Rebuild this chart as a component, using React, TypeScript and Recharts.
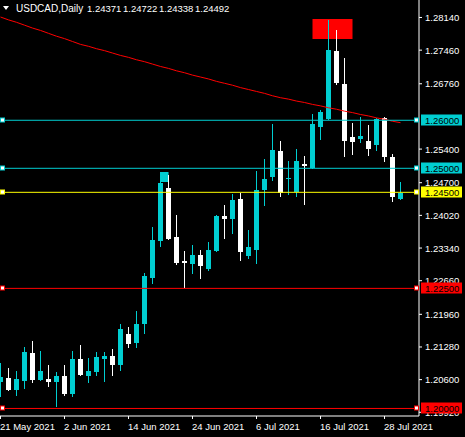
import {
  ComposedChart,
  Bar,
  Line,
  XAxis,
  YAxis,
  ReferenceLine,
  ReferenceArea,
} from 'recharts';

const CYAN = '#00ced1';
const FONT = '"Liberation Sans", Arial, sans-serif';

// trading days shown on the chart
const dates = [
  '21 May', '24 May', '25 May', '26 May', '27 May', '28 May', '31 May',
  '1 Jun', '2 Jun', '3 Jun', '4 Jun', '7 Jun', '8 Jun', '9 Jun', '10 Jun',
  '11 Jun', '14 Jun', '15 Jun', '16 Jun', '17 Jun', '18 Jun', '21 Jun',
  '22 Jun', '23 Jun', '24 Jun', '25 Jun', '28 Jun', '29 Jun', '30 Jun',
  '1 Jul', '2 Jul', '5 Jul', '6 Jul', '7 Jul', '8 Jul', '9 Jul', '12 Jul',
  '13 Jul', '14 Jul', '15 Jul', '16 Jul', '19 Jul', '20 Jul', '21 Jul',
  '22 Jul', '23 Jul', '26 Jul', '27 Jul', '28 Jul', '29 Jul', '30 Jul',
];

const opens = [
  1.20557, 1.20634, 1.20384, 1.20578, 1.21155, 1.20592, 1.20613, 1.20551,
  1.20676, 1.20301, 1.2103, 1.20676, 1.20759, 1.2103, 1.21092, 1.20905,
  1.2155, 1.21363, 1.21758, 1.22716, 1.23486, 1.2459, 1.2357, 1.2307,
  1.23008, 1.23195, 1.22903, 1.23278, 1.24007, 1.23945, 1.24361, 1.23174,
  1.23299, 1.24548, 1.24819, 1.2536, 1.24798, 1.24507, 1.2509, 1.25006,
  1.2586, 1.26026, 1.27442, 1.26755, 1.25652, 1.2561, 1.25568, 1.25485,
  1.26047, 1.25235, 1.24371,
];

const highs = [
  1.20953, 1.20842, 1.2078, 1.2128, 1.21404, 1.21196, 1.20905, 1.20759,
  1.20905, 1.21196, 1.21321, 1.2105, 1.21175, 1.21175, 1.21238, 1.21758,
  1.21696, 1.22029, 1.2282, 1.23778, 1.24923, 1.24861, 1.24028, 1.23278,
  1.23403, 1.23299, 1.23466, 1.24028, 1.24236, 1.24465, 1.24486, 1.23715,
  1.24944, 1.25194, 1.25922, 1.25568, 1.25152, 1.25402, 1.25256, 1.26131,
  1.26214, 1.28088, 1.27879, 1.27296, 1.25943, 1.26068, 1.25902, 1.26047,
  1.2606, 1.25298, 1.24722,
];

const lows = [
  1.20245, 1.20363, 1.20259, 1.20405, 1.20536, 1.2058, 1.20447, 1.2003,
  1.20259, 1.20238, 1.20676, 1.2053, 1.20676, 1.20551, 1.20676, 1.2078,
  1.21259, 1.21259, 1.2155, 1.22591, 1.23361, 1.23507, 1.22987, 1.22508,
  1.22799, 1.22695, 1.22862, 1.23257, 1.23528, 1.23632, 1.2307, 1.23112,
  1.23008, 1.24215, 1.24736, 1.24402, 1.24444, 1.24402, 1.24236, 1.2499,
  1.25589, 1.2601, 1.26734, 1.25235, 1.25277, 1.25527, 1.25256, 1.2536,
  1.25131, 1.24298, 1.24338,
];

const closes = [
  1.20655, 1.20384, 1.20613, 1.21175, 1.20592, 1.2078, 1.20551, 1.20676,
  1.20301, 1.2103, 1.20697, 1.2078, 1.21071, 1.21092, 1.20905, 1.21654,
  1.21342, 1.21758, 1.22758, 1.23507, 1.24694, 1.23528, 1.23028, 1.23028,
  1.23195, 1.22966, 1.23299, 1.24007, 1.23945, 1.2434, 1.23257, 1.23361,
  1.24548, 1.24777, 1.25381, 1.24486, 1.24798, 1.25152, 1.25048, 1.25922,
  1.26172, 1.27463, 1.26776, 1.25568, 1.25548, 1.25673, 1.25402, 1.26026,
  1.25235, 1.24402, 1.24492,
];

// red moving average
const maValues = [
  1.2815, 1.2809, 1.2804, 1.2798, 1.2792, 1.2787, 1.2781, 1.2775, 1.277,
  1.2764, 1.2758, 1.2754, 1.2749, 1.2745, 1.274, 1.2735, 1.2731, 1.2726,
  1.2722, 1.2717, 1.2712, 1.2708, 1.2703, 1.2699, 1.2694, 1.269, 1.2686,
  1.2681, 1.2677, 1.2673, 1.2668, 1.2664, 1.266, 1.2656, 1.2651, 1.2647,
  1.2644, 1.264, 1.2637, 1.2633, 1.263, 1.2626, 1.2623, 1.2619, 1.2616,
  1.2612, 1.2609, 1.2605, 1.2602, 1.2598, 1.2595,
];

const xTickIdx = [0, 8, 16, 24, 32, 40, 48];
const xTickLabels = [
  '21 May 2021', '2 Jun 2021', '14 Jun 2021', '24 Jun 2021',
  '6 Jul 2021', '16 Jul 2021', '28 Jul 2021',
];
const yTicks = [
  1.2814, 1.2746, 1.2676, 1.254, 1.247, 1.2402, 1.2334, 1.2266, 1.2196,
  1.2128, 1.206, 1.1992,
];

const levels = [
  { price: 1.26, color: CYAN },
  { price: 1.25, color: CYAN },
  { price: 1.245, color: '#ffff00' },
  { price: 1.225, color: '#ff0000' },
  { price: 1.2, color: '#ff0000' },
];

const header = ['1.24371', '1.24722', '1.24338', '1.24492'];

// drawn objects: red box over the July spike, small cyan box at 18 Jun
const redBox = { x1: 39, x2: 44, y1: 1.27692, y2: 1.28108 };
const cyanBox = { x1: 20, x2: 21, y1: 1.24715, y2: 1.24923 };

const X_DOMAIN: [number, number] = [-0.0625, 52.3125];
const Y_DOMAIN: [number, number] = [1.19843, 1.28504];

const data = dates.map((d, i) => ({
  idx: i,
  date: d,
  open: opens[i],
  high: highs[i],
  low: lows[i],
  close: closes[i],
  range: [lows[i], highs[i]],
  ma: maValues[i],
}));

const Candle = (props: any) => {
  const { x, y, width, height, payload } = props;
  if (x == null || y == null) return null;
  const top = Math.min(y, y + height);
  const h = Math.abs(height);
  const { open, close, high, low } = payload;
  const k = h / (high - low);
  const yOf = (p: number) => top + (high - p) * k;
  const up = close >= open;
  const color = up ? CYAN : '#ffffff';
  const bx = Math.round(x);
  const bTop = Math.round(yOf(Math.max(open, close)));
  const bBot = Math.round(yOf(Math.min(open, close)));
  const wTop = Math.round(top);
  const wBot = Math.round(top + h);
  return (
    <g>
      <rect x={bx + 2} y={wTop} width={1} height={Math.max(1, wBot - wTop)} fill={color} />
      <rect x={bx} y={bTop} width={width} height={Math.max(1, bBot - bTop)} fill={color} />
    </g>
  );
};

const LevelTag = (props: any) => {
  const { viewBox, color, price } = props;
  if (!viewBox) return null;
  const ly = Math.round(viewBox.y);
  const right = viewBox.x + viewBox.width;
  return (
    <g>
      <rect x={0.5} y={ly - 2} width={4} height={4} fill="#fff" stroke={color} />
      <rect x={right - 4.5} y={ly - 2} width={4} height={4} fill="#fff" stroke={color} />
      <rect x={right + 2} y={ly - 5.5} width={41} height={11} fill={color} />
      <text
        x={right + 6}
        y={ly + 3.5}
        fontSize={9.5}
        fontFamily={FONT}
        fill="#000"
      >
        {price.toFixed(5)}
      </text>
    </g>
  );
};

const XTick = (props: any) => {
  const { x, y, payload } = props;
  const label = xTickLabels[xTickIdx.indexOf(payload.value)];
  return (
    <text x={x - 0.5} y={y + 8.5} fontSize={9.5} fontFamily={FONT} fill="#fff" textAnchor="start">
      {label}
    </text>
  );
};

const YTick = (props: any) => {
  const { y, payload } = props;
  return (
    <text x={425} y={y + 3.5} fontSize={9.5} fontFamily={FONT} fill="#fff" textAnchor="start">
      {Number(payload.value).toFixed(5)}
    </text>
  );
};

export default function App() {
  return (
    <div
      style={{
        position: 'absolute',
        left: 0,
        top: 0,
        width: 465,
        height: 437,
        background: '#000',
      }}
    >
      <ComposedChart
        width={465}
        height={437}
        data={data}
        margin={{ top: 0, right: 0, bottom: 0, left: 0 }}
      >
        <XAxis
          dataKey="idx"
          type="number"
          domain={X_DOMAIN}
          allowDataOverflow
          ticks={xTickIdx}
          tick={<XTick />}
          tickSize={3}
          height={21}
          stroke="#fff"
          interval={0}
        />
        <YAxis
          orientation="right"
          type="number"
          domain={Y_DOMAIN}
          allowDataOverflow
          ticks={yTicks}
          tick={<YTick />}
          tickSize={3}
          width={46}
          stroke="#fff"
          interval={0}
        />
        <Line
          dataKey="ma"
          stroke="#ff0000"
          strokeWidth={1}
          dot={false}
          activeDot={false}
          isAnimationActive={false}
        />
        <Bar
          dataKey="range"
          barSize={5}
          shape={<Candle />}
          isAnimationActive={false}
        />
        <ReferenceArea
          x1={cyanBox.x1}
          x2={cyanBox.x2}
          y1={cyanBox.y1}
          y2={cyanBox.y2}
          fill={CYAN}
          fillOpacity={1}
          stroke="none"
        />
        <ReferenceArea
          x1={redBox.x1}
          x2={redBox.x2}
          y1={redBox.y1}
          y2={redBox.y2}
          fill="#ff0000"
          fillOpacity={1}
          stroke="none"
        />
      </ComposedChart>

      {/* level lines and their price tags sit above the axis labels */}
      <div style={{ position: 'absolute', left: 0, top: 0 }}>
        <ComposedChart
          width={465}
          height={437}
          data={data}
          margin={{ top: 0, right: 46, bottom: 21, left: 0 }}
        >
          <XAxis dataKey="idx" type="number" domain={X_DOMAIN} allowDataOverflow hide />
          <YAxis type="number" domain={Y_DOMAIN} allowDataOverflow hide />
          {levels.map((l) => (
            <ReferenceLine
              key={l.price}
              y={l.price}
              stroke={l.color}
              strokeWidth={1}
              label={<LevelTag color={l.color} price={l.price} />}
            />
          ))}
        </ComposedChart>
      </div>

      <svg
        width={465}
        height={18}
        style={{ position: 'absolute', left: 0, top: 0 }}
      >
        <polygon points="3,6 9,6 6,10" fill="#fff" />
        <text x={16} y={12} fontSize={10} fontFamily={FONT} fill="#fff">
          USDCAD,Daily
        </text>
        {header.map((v, i) => (
          <text key={v + i} x={87 + i * 36} y={12} fontSize={9.5} fontFamily={FONT} fill="#fff">
            {v}
          </text>
        ))}
      </svg>
    </div>
  );
}
